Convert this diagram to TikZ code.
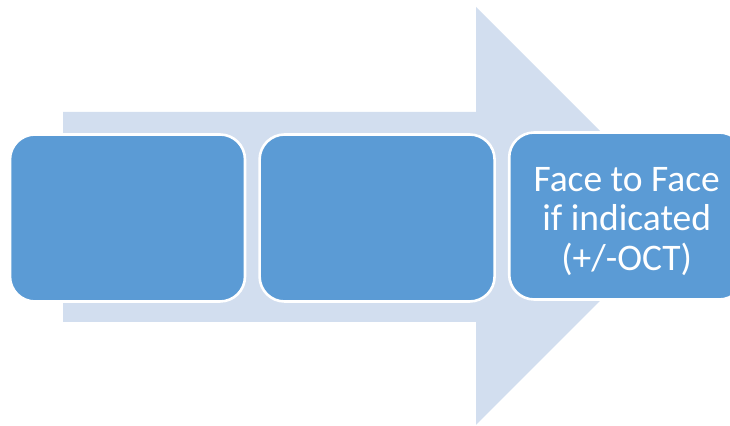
\documentclass[tikz,border=0pt]{standalone}
\usepackage{fontspec}
\setmainfont{Carlito}
\usetikzlibrary{positioning}
\definecolor{arrowblue}{HTML}{D2DEEF}
\definecolor{boxblue}{HTML}{5B9BD5}
\tikzset{stage/.style={rectangle, rounded corners=12.5pt, fill=boxblue, draw=white,
    line width=1.3pt, minimum width=117.5pt, minimum height=83.5pt, inner sep=0pt,
    text=white, align=center, font=\fontsize{18.75}{19.75}\selectfont}}

\begin{document}
\begin{tikzpicture}[x=0.5pt, y=-0.5pt]
  \useasboundingbox (0,0) rectangle (730,426);
  \clip (0,0) rectangle (730,426);
  % Grande flèche de fond
  \fill[arrowblue] (63,112) -- (476,112) -- (476,7) -- (685,216)
      -- (476,425) -- (476,322) -- (63,322) -- cycle;
  % Étapes
  \node[stage] (s1) at (127.5,218) {};
  \node[stage, right=6pt of s1] (s2) {};
  \node[stage, right=6pt of s2, yshift=1pt] (s3)
      {\rule{0pt}{17.5pt}Face to Face\\if indicated\\(+/-OCT)};
\end{tikzpicture}
\end{document}
